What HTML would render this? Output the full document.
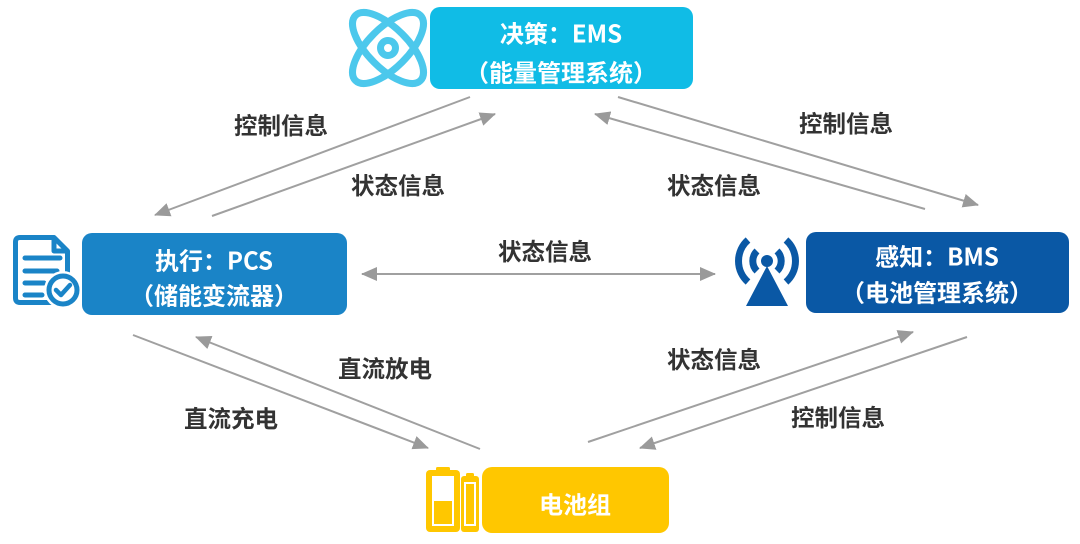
<!DOCTYPE html>
<html>
<head>
<meta charset="utf-8">
<style>
  html,body{margin:0;padding:0;background:#fff;}
  body{width:1080px;height:544px;overflow:hidden;}
  svg{display:block;}
  text{font-family:"Noto Sans CJK SC","WenQuanYi Zen Hei","Liberation Sans",sans-serif;}
  .box{fill:#fff;font-size:24px;font-weight:600;}
  .lbl{fill:#333;font-size:23.5px;font-weight:600;}
</style>
</head>
<body>
<svg width="1080" height="544" viewBox="0 0 1080 544" xmlns="http://www.w3.org/2000/svg">
  <defs>
    <marker id="ah" markerUnits="userSpaceOnUse" markerWidth="16" markerHeight="14" refX="15" refY="7" orient="auto">
      <path d="M0,0 L16,7 L0,14 z" fill="#9a9a9a"/>
    </marker>
  </defs>

  <!-- connectors -->
  <g stroke="#a0a0a0" stroke-width="2" fill="none">
    <line x1="470" y1="97" x2="155" y2="215" marker-end="url(#ah)"/>
    <line x1="212" y1="216" x2="495" y2="114" marker-end="url(#ah)"/>
    <line x1="618" y1="97" x2="978" y2="205" marker-end="url(#ah)"/>
    <line x1="925" y1="209" x2="595" y2="114" marker-end="url(#ah)"/>
    <line x1="133" y1="335" x2="428" y2="448" marker-end="url(#ah)"/>
    <line x1="480" y1="449" x2="196" y2="337" marker-end="url(#ah)"/>
    <line x1="588" y1="442" x2="913" y2="332" marker-end="url(#ah)"/>
    <line x1="967" y1="337" x2="640" y2="448" marker-end="url(#ah)"/>
    <line x1="540" y1="274" x2="362" y2="274" marker-end="url(#ah)"/>
    <line x1="540" y1="274" x2="715" y2="274" marker-end="url(#ah)"/>
  </g>

  <!-- connector labels -->
  <text class="lbl" x="281" y="124" text-anchor="middle" dominant-baseline="central">控制信息</text>
  <text class="lbl" x="398" y="184" text-anchor="middle" dominant-baseline="central">状态信息</text>
  <text class="lbl" x="846" y="122" text-anchor="middle" dominant-baseline="central">控制信息</text>
  <text class="lbl" x="714" y="184" text-anchor="middle" dominant-baseline="central">状态信息</text>
  <text class="lbl" x="545" y="250" text-anchor="middle" dominant-baseline="central">状态信息</text>
  <text class="lbl" x="385" y="367" text-anchor="middle" dominant-baseline="central">直流放电</text>
  <text class="lbl" x="231" y="417" text-anchor="middle" dominant-baseline="central">直流充电</text>
  <text class="lbl" x="714" y="358" text-anchor="middle" dominant-baseline="central">状态信息</text>
  <text class="lbl" x="838" y="416" text-anchor="middle" dominant-baseline="central">控制信息</text>

  <!-- EMS -->
  <g fill="none" stroke="#4cc8ec" stroke-width="7">
    <ellipse cx="388" cy="48" rx="46" ry="20" transform="rotate(45 388 48)"/>
    <ellipse cx="388" cy="48" rx="46" ry="20" transform="rotate(-45 388 48)"/>
    <circle cx="388" cy="48" r="7.5"/>
  </g>
  <rect x="430" y="7" width="263" height="82" rx="10" fill="#10bce6"/>
  <text class="box" x="561" y="32" text-anchor="middle" dominant-baseline="central">决策：EMS</text>
  <text class="box" x="561" y="71" text-anchor="middle" dominant-baseline="central">（能量管理系统）</text>

  <!-- PCS -->
  <g fill="none" stroke="#1a84c7" stroke-width="5" stroke-linejoin="round" stroke-linecap="round">
    <path d="M20,237.5 H54 L67.5,251 V298 Q67.5,302.5 63,302.5 H20 Q15.5,302.5 15.5,298 V242 Q15.5,237.5 20,237.5 Z"/>
    <path d="M54,238 V251 H67"/>
    <line x1="25" y1="258" x2="60" y2="258"/>
    <line x1="25" y1="271" x2="57" y2="271"/>
    <line x1="25" y1="283" x2="44" y2="283"/>
    <line x1="25" y1="295" x2="42" y2="295"/>
  </g>
  <circle cx="63" cy="290" r="19" fill="#fff"/>
  <circle cx="63" cy="290" r="14" fill="none" stroke="#1a84c7" stroke-width="5"/>
  <path d="M56,290 L61,295 L70,285" fill="none" stroke="#1a84c7" stroke-width="4.5" stroke-linecap="round" stroke-linejoin="round"/>
  <rect x="82" y="233" width="265" height="82" rx="10" fill="#1a84c7"/>
  <text class="box" x="214" y="259" text-anchor="middle" dominant-baseline="central">执行：PCS</text>
  <text class="box" x="214" y="294" text-anchor="middle" dominant-baseline="central">（储能变流器）</text>

  <!-- BMS -->
  <g fill="none" stroke="#0a58a5" stroke-width="7">
    <path d="M757,251 A14,14 0 0 0 757,271"/>
    <path d="M777,251 A14,14 0 0 1 777,271"/>
    <path d="M748,240 A28,28 0 0 0 748,282"/>
    <path d="M786,240 A28,28 0 0 1 786,282"/>
  </g>
  <circle cx="767" cy="261" r="6" fill="#0a58a5"/>
  <path d="M767,266 L788,306 L746,306 Z" fill="#0a58a5"/>
  <rect x="806" y="232" width="263" height="81" rx="10" fill="#0a58a5"/>
  <text class="box" x="937" y="255" text-anchor="middle" dominant-baseline="central">感知：BMS</text>
  <text class="box" x="937" y="291" text-anchor="middle" dominant-baseline="central">（电池管理系统）</text>

  <!-- Battery -->
  <rect x="436" y="467" width="14" height="6" rx="1.5" fill="#ffc700"/>
  <rect x="426" y="470" width="34" height="62" rx="4" fill="#ffc700"/>
  <rect x="432" y="476" width="22" height="50" fill="#fff"/>
  <rect x="434" y="501" width="18" height="23" fill="#ffc700"/>
  <rect x="466" y="473" width="8" height="5" rx="1.5" fill="#ffc700"/>
  <rect x="461" y="476" width="18" height="56" rx="3" fill="#ffc700"/>
  <rect x="464" y="482" width="12" height="44" fill="#fff"/>
  <rect x="466" y="484" width="8" height="40" fill="#ffc700"/>
  <rect x="482" y="467" width="187" height="66" rx="10" fill="#ffc700"/>
  <text class="box" x="575" y="503" text-anchor="middle" dominant-baseline="central">电池组</text>
</svg>
</body>
</html>
